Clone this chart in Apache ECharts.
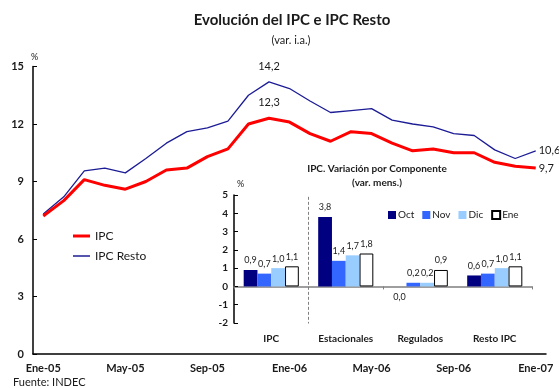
<!DOCTYPE html>
<html>
<head>
<meta charset="utf-8">
<script src="https://cdn.jsdelivr.net/npm/echarts@6/dist/echarts.min.js"></script>
<style>
  html, body { margin: 0; padding: 0; background: #fff; }
  #chart { width: 559px; height: 388px; }
</style>
</head>
<body>
<div id="chart"></div>
<script>
// Monthly year-on-year variation (%), Jan 2005 – Jan 2007
const months = ['Ene-05','Feb-05','Mar-05','Abr-05','May-05','Jun-05','Jul-05','Ago-05','Sep-05','Oct-05','Nov-05','Dic-05',
                'Ene-06','Feb-06','Mar-06','Abr-06','May-06','Jun-06','Jul-06','Ago-06','Sep-06','Oct-06','Nov-06','Dic-06','Ene-07'];
const ipc      = [7.2, 8.0, 9.1, 8.8, 8.6, 9.0, 9.6, 9.7, 10.3, 10.7, 12.0, 12.3,
                  12.1, 11.5, 11.1, 11.6, 11.5, 11.0, 10.6, 10.7, 10.5, 10.5, 10.0, 9.8, 9.7];
const ipcResto = [7.3, 8.2, 9.55, 9.7, 9.45, 10.2, 11.0, 11.6, 11.8, 12.15, 13.5, 14.2,
                  13.85, 13.2, 12.6, 12.7, 12.8, 12.2, 12.0, 11.85, 11.5, 11.4, 10.65, 10.2, 10.6];
// indices of the points that carry a value label
const labelledPoints = [11, 24];

// Monthly variation by component (%)
const componentes = ['IPC', 'Estacionales', 'Regulados', 'Resto IPC'];
const oct = [0.9, 3.8, 0.0, 0.6];
const nov = [0.7, 1.4, 0.2, 0.7];
const dic = [1.0, 1.7, 0.2, 1.0];
const ene = [1.1, 1.8, 0.9, 1.1];
// dashed separator after the first component, on a 0..4 band scale
const separatorAt = 1;
const separatorSpan = [-2.1, 4.9];

const FONT = 'Lato, "DejaVu Sans", sans-serif';
const TXT = '#1a1a1a';
const fmt = v => Number(v).toFixed(1).replace('.', ',');

function lineData(values) {
  return values.map((v, i) => {
    if (labelledPoints.indexOf(i) < 0) return v;
    const last = i === values.length - 1;
    return {
      value: v,
      label: {
        show: true,
        position: last ? 'right' : 'top',
        distance: last ? 3 : 10,
        formatter: p => fmt(p.value),
        fontFamily: FONT, fontSize: 11, color: TXT
      }
    };
  });
}

function barSeries(name, values, color, border) {
  return {
    name: name,
    type: 'bar',
    xAxisIndex: 1,
    yAxisIndex: 1,
    barGap: '0%',
    barCategoryGap: '26%',
    itemStyle: { color: color, borderColor: border || color, borderWidth: border ? 1 : 0 },
    label: {
      show: true, position: 'top', distance: 5,
      fontFamily: FONT, fontSize: 9, color: TXT,
      formatter: p => fmt(p.value)
    },
    data: values.map(v => v <= 0 ? { value: v, label: { position: 'bottom', distance: 6 } } : v),
    z: 3
  };
}

function text(x, y, str, size, weight, align) {
  return {
    type: 'text', x: x, y: y, silent: true,
    style: {
      text: str, fill: TXT, align: align || 'center', verticalAlign: 'middle',
      font: (weight || 'normal') + ' ' + size + 'px ' + FONT
    }
  };
}

const chart = echarts.init(document.getElementById('chart'), null, { renderer: 'canvas' });

chart.setOption({
  animation: false,
  backgroundColor: '#fff',
  textStyle: { fontFamily: FONT },
  graphic: [
    text(292, 20, 'Evolución del IPC e IPC Resto', 15, 'bold'),
    text(291, 40, '(var. i.a.)', 11),
    text(377, 169, 'IPC. Variación por Componente', 10, 'bold'),
    text(377, 183, '(var. mens.)', 10, 'bold'),
    text(13, 382, 'Fuente: INDEC', 11, 'normal', 'left')
  ],
  legend: [
    {
      left: 68, top: 225, orient: 'vertical', icon: 'rect',
      itemWidth: 17, itemHeight: 3,
      textStyle: { fontFamily: FONT, fontSize: 12, color: TXT },
      data: ['IPC']
    },
    {
      left: 68, top: 245, orient: 'vertical', icon: 'rect',
      itemWidth: 17, itemHeight: 1.5,
      textStyle: { fontFamily: FONT, fontSize: 12, color: TXT },
      data: ['IPC Resto']
    },
    {
      left: 383, top: 205, icon: 'rect',
      itemWidth: 8, itemHeight: 8, itemGap: 8,
      textStyle: { fontFamily: FONT, fontSize: 10, color: TXT, padding: [0, 0, 0, -3] },
      data: ['Oct', 'Nov', 'Dic', 'Ene']
    }
  ],
  grid: [
    { left: 33, right: 13, top: 66.5, bottom: 34 },
    { left: 234, right: 27, top: 195, bottom: 65 }
  ],
  xAxis: [
    {
      type: 'category', gridIndex: 0, data: months, boundaryGap: true,
      axisLine: { lineStyle: { color: '#000', width: 1.5 } },
      axisTick: { inside: true, length: 4, interval: 3, lineStyle: { color: '#000' } },
      axisLabel: { interval: 3, margin: 9, fontFamily: FONT, fontSize: 11, fontWeight: 'bold', color: TXT },
      splitLine: { show: false }
    },
    {
      // zero line of the component chart
      type: 'category', gridIndex: 1, data: componentes, boundaryGap: true,
      axisLine: { onZero: true, lineStyle: { color: '#7f7f7f', width: 1.5 } },
      axisTick: { show: true, length: 3, lineStyle: { color: '#7f7f7f' } },
      axisLabel: { show: false },
      splitLine: { show: false }
    },
    {
      // component names along the bottom of the inset
      type: 'category', gridIndex: 1, data: componentes, boundaryGap: true,
      position: 'bottom',
      axisLine: { show: false, onZero: false },
      axisTick: { show: false },
      axisLabel: { margin: 11, fontFamily: FONT, fontSize: 10, fontWeight: 'bold', color: TXT }
    },
    {
      // band scale used by the separator line
      type: 'value', gridIndex: 1, min: 0, max: componentes.length, show: false
    }
  ],
  yAxis: [
    {
      type: 'value', gridIndex: 0, min: 0, max: 15, interval: 3,
      name: '%', nameLocation: 'end', nameGap: 5,
      nameTextStyle: { fontFamily: FONT, fontSize: 9, color: TXT, align: 'left', padding: [0, 0, 0, -2] },
      axisLine: { show: true, lineStyle: { color: '#000', width: 1.5 } },
      axisTick: { show: true, inside: true, length: 4, lineStyle: { color: '#000' } },
      axisLabel: { margin: 9, fontFamily: FONT, fontSize: 11, fontWeight: 'bold', color: TXT },
      splitLine: { show: false }
    },
    {
      type: 'value', gridIndex: 1, min: -2, max: 5, interval: 1,
      name: '%', nameLocation: 'end', nameGap: 6,
      nameTextStyle: { fontFamily: FONT, fontSize: 9, color: TXT, align: 'left', padding: [0, 0, 0, 3] },
      axisLine: { show: true, onZero: false, lineStyle: { color: '#000', width: 1.5 } },
      axisTick: { show: true, inside: true, length: 4, lineStyle: { color: '#000' } },
      axisLabel: { margin: 6, fontFamily: FONT, fontSize: 10, fontWeight: 'bold', color: TXT },
      splitLine: { show: false }
    }
  ],
  series: [
    {
      name: 'IPC Resto', type: 'line', xAxisIndex: 0, yAxisIndex: 0,
      symbol: 'circle', symbolSize: 0, showSymbol: true, color: '#1c1c96',
      lineStyle: { width: 1.3, color: '#1c1c96' },
      data: lineData(ipcResto), z: 2
    },
    {
      name: 'IPC', type: 'line', xAxisIndex: 0, yAxisIndex: 0,
      symbol: 'circle', symbolSize: 0, showSymbol: true, color: '#ff0000',
      lineStyle: { width: 3, color: '#ff0000' },
      data: lineData(ipc), z: 3
    },
    {
      name: 'separador', type: 'line', xAxisIndex: 3, yAxisIndex: 1,
      symbol: 'none', silent: true,
      lineStyle: { color: '#7f7f7f', width: 1, type: [3, 2] },
      data: separatorSpan.map(y => [separatorAt, y]), z: 1
    },
    barSeries('Oct', oct, '#000080'),
    barSeries('Nov', nov, '#3366ff'),
    barSeries('Dic', dic, '#99ccff'),
    barSeries('Ene', ene, '#ffffff', '#000000')
  ]
});
</script>
</body>
</html>
